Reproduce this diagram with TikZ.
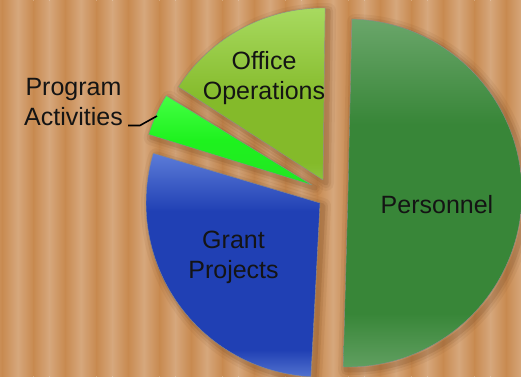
\documentclass[tikz,border=0pt]{standalone}
\usepackage{fontspec}
\setmainfont{Liberation Sans}
\definecolor{bglight}{HTML}{D6A77C}
\definecolor{bgdark}{HTML}{C88A50}
\definecolor{shadowc}{HTML}{6B3F1C}
\definecolor{persTop}{HTML}{6AA66A}
\definecolor{persMid}{HTML}{388638}
\definecolor{persBot}{HTML}{62A062}
\definecolor{offTop}{HTML}{A8DA60}
\definecolor{offMid}{HTML}{84BA2A}
\definecolor{offBot}{HTML}{8CC23C}
\definecolor{progTop}{HTML}{44FF44}
\definecolor{progMid}{HTML}{1EF21E}
\definecolor{progBot}{HTML}{22E622}
\definecolor{grantTop}{HTML}{5C7CD8}
\definecolor{grantMid}{HTML}{2040B4}
\definecolor{grantBot}{HTML}{5272CF}
\pgfdeclareverticalshading{persShade}{100bp}{color(0bp)=(persBot); color(25bp)=(persBot); color(33bp)=(persMid); color(60bp)=(persMid); color(75bp)=(persTop); color(100bp)=(persTop)}
\pgfdeclareverticalshading{offShade}{100bp}{color(0bp)=(offBot); color(25bp)=(offBot); color(30bp)=(offMid); color(48bp)=(offMid); color(75bp)=(offTop); color(100bp)=(offTop)}
\pgfdeclareverticalshading{progShade}{100bp}{color(0bp)=(progBot); color(25bp)=(progBot); color(50bp)=(progMid); color(75bp)=(progTop); color(100bp)=(progTop)}
\pgfdeclareverticalshading{grantShade}{100bp}{color(0bp)=(grantBot); color(25bp)=(grantBot); color(31bp)=(grantMid); color(62bp)=(grantMid); color(75bp)=(grantTop); color(100bp)=(grantTop)}
\newcommand{\pieslice}[4]{(#1) -- ++(#3:#2) arc[start angle=#3, end angle=#4, radius=#2] -- cycle}
\begin{document}
\begin{tikzpicture}[x=1pt,y=1pt,
  shadowrim/.style={draw=shadowc,line join=round},
  rim/.style={draw=black!45,line width=0.4pt,line join=round},
  lbl/.style={inner sep=0pt,anchor=base,align=center,text=black!92,font=\fontsize{25}{29.5}\selectfont},
  leader/.style={black,line width=1.6pt}]
\clip (0,0) rectangle (521,-376);

\foreach \i in {0,...,17}{
  \shade[left color=bglight,right color=bgdark] (\i*31.5-13.75,0) rectangle ++(15.75,-376);
  \shade[left color=bgdark,right color=bglight] (\i*31.5+2,0) rectangle ++(15.75,-376);
}

\foreach \w/\o in {16/.07,10/.1,5/.16}{
  \draw[shadowrim,line width=\w pt,opacity=\o] \pieslice{351,-196}{174}{-91.6}{88.7};
  \draw[shadowrim,line width=\w pt,opacity=\o] \pieslice{326,-183}{172}{89.3}{147.2};
  \draw[shadowrim,line width=\w pt,opacity=\o] \pieslice{315,-188}{171}{148.5}{162.8};
  \draw[shadowrim,line width=\w pt,opacity=\o] \pieslice{323,-206}{174}{163.4}{267};
}

\shade[shading=persShade,rim] \pieslice{348,-193}{174}{-91.6}{88.7};
\shade[shading=offShade,rim] \pieslice{323,-180}{172}{89.3}{147.2};
\shade[shading=progShade,rim] \pieslice{312,-185}{171}{148.5}{162.8};
\shade[shading=grantShade,rim] \pieslice{320,-203}{174}{163.4}{267};

\node[lbl] (persLabel) at (437,-213) {Personnel};
\node[lbl] (officeLabel) at (264,-99) {Office\\Operations};
\node[lbl] (progLabel) at (73.5,-125) {Program\\Activities};
\node[lbl] (grantLabel) at (233.5,-278) {Grant\\Projects};

\coordinate (progTip) at (157,-116);
\draw[leader] ([xshift=5pt]progLabel.south east) -- ++(12,0) -- (progTip);
\end{tikzpicture}
\end{document}
